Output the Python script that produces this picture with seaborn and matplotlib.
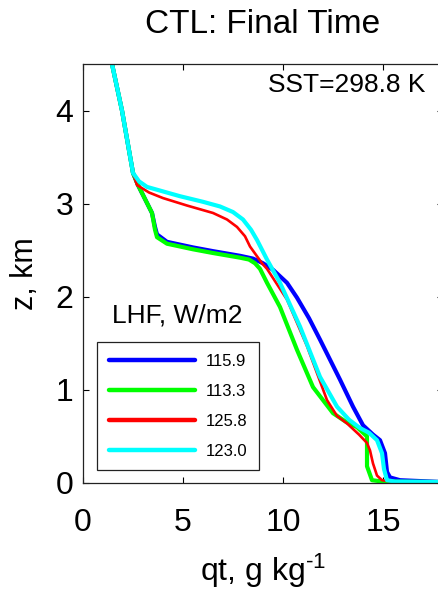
import numpy as np
import pandas as pd
import matplotlib
matplotlib.use("Agg")
import matplotlib.pyplot as plt
import seaborn as sns

# LHF labels and line colours
labels = ["115.9", "113.3", "125.8", "123.0"]
colors = ["#0000ff", "#00ff00", "#ff0000", "#00ffff"]
widths = [3.0, 3.0, 1.9, 3.0]

# qt (g/kg) and z (km), top of profile to surface
qt_blue = [1.45, 1.95, 2.5, 2.75, 3.1, 3.45, 3.6, 3.7, 4.2, 5.5, 6.5, 7.85, 8.5, 9.0, 9.5, 10.2, 10.7,
           11.3, 11.85, 12.85, 13.5, 14.0, 14.5, 14.85, 15.1, 15.2, 15.35, 15.85, 18.0]
z_blue = [4.5, 4.0, 3.33, 3.2, 3.05, 2.9, 2.75, 2.67, 2.59, 2.53, 2.49, 2.44, 2.41, 2.36, 2.29, 2.15, 1.99,
          1.77, 1.54, 1.11, 0.82, 0.62, 0.52, 0.46, 0.32, 0.12, 0.06, 0.03, 0.01]

qt_green = [1.45, 1.95, 2.5, 2.75, 3.1, 3.45, 3.6, 3.7, 4.2, 5.5, 6.5, 7.85, 8.3, 8.6, 8.85, 9.2, 9.85,
            10.7, 11.5, 12.5, 13.2, 13.7, 14.2, 14.2, 14.45, 15.0, 18.0]
z_green = [4.5, 4.0, 3.33, 3.2, 3.05, 2.9, 2.72, 2.64, 2.57, 2.51, 2.47, 2.42, 2.4, 2.36, 2.3, 2.15, 1.89,
           1.43, 1.03, 0.75, 0.65, 0.6, 0.5, 0.18, 0.03, 0.015, 0.01]

qt_red = [1.45, 1.95, 2.5, 2.7, 3.3, 4.0, 5.2, 6.5, 7.2, 7.7, 8.1, 8.35, 8.95, 9.2, 10.2, 11.2, 12.2,
          12.7, 13.2, 13.8, 14.2, 14.35, 14.5, 14.7, 14.95, 15.5, 18.0]
z_red = [4.5, 4.0, 3.33, 3.2, 3.12, 3.06, 2.98, 2.9, 2.83, 2.75, 2.65, 2.54, 2.36, 2.3, 1.97, 1.47, 0.89,
         0.72, 0.64, 0.52, 0.43, 0.35, 0.21, 0.08, 0.03, 0.015, 0.01]

qt_cyan = [1.45, 1.95, 2.5, 2.8, 3.2, 4.85, 6.0, 6.85, 7.5, 8.0, 8.4, 8.7, 9.2, 9.85, 10.85, 11.85, 12.7,
           13.3, 13.85, 14.3, 14.7, 14.95, 15.05, 15.2, 15.6, 18.0]
z_cyan = [4.5, 4.0, 3.33, 3.24, 3.18, 3.08, 3.02, 2.97, 2.91, 2.83, 2.72, 2.61, 2.4, 2.15, 1.68, 1.14, 0.82,
          0.68, 0.59, 0.54, 0.46, 0.32, 0.15, 0.03, 0.015, 0.01]

profiles = [(qt_blue, z_blue), (qt_green, z_green), (qt_red, z_red), (qt_cyan, z_cyan)]

sns.set_style("ticks")
plt.rcParams["font.family"] = ["Liberation Sans", "DejaVu Sans"]
plt.rcParams["mathtext.fontset"] = "custom"
plt.rcParams["mathtext.rm"] = "Liberation Sans"
plt.rcParams["mathtext.it"] = "Liberation Sans"
for k in ["text.color", "axes.labelcolor", "xtick.color", "ytick.color"]:
    plt.rcParams[k] = "black"

fig = plt.figure(figsize=(4.38, 5.97), dpi=100)
# axes runs past the right edge of the figure, as in the reference
ax = fig.add_axes([83 / 438, 114 / 597, 360 / 438, 419 / 597])

for (qt, z), lab, c, w in zip(profiles, labels, colors, widths):
    df = pd.DataFrame({"qt": qt, "z": z})
    sns.lineplot(data=df, x="qt", y="z", sort=False, estimator=None, color=c, lw=w,
                 label=lab, ax=ax)

ax.set_xlim(0, 18)
ax.set_ylim(0, 4.5)
ax.set_xticks([0, 5, 10, 15])
ax.set_yticks([0, 1, 2, 3, 4])
ax.tick_params(direction="in", length=4, width=0.8, top=True, right=True, labelsize=23)
ax.tick_params(axis="x", pad=18)
ax.tick_params(axis="y", pad=7)
for s in ax.spines.values():
    s.set_color("#222222")
    s.set_linewidth(0.9)

ax.set_xlabel("qt, g kg$^{\u20101}$", fontsize=23, labelpad=10)
ax.set_ylabel("z, km", fontsize=22, labelpad=11)
ax.set_title("CTL: Final Time", fontsize=24, pad=22)

ax.text(9.25, 4.27, "SST=298.8 K", fontsize=19, va="center", ha="left")
ax.text(1.45, 1.80, "LHF, W/m2", fontsize=19, va="center", ha="left")

leg = ax.legend(loc="upper left", bbox_to_anchor=(97 / 438, 1 - 342 / 597),
                bbox_transform=fig.transFigure, borderaxespad=0, fontsize=12,
                frameon=True, fancybox=False, edgecolor="#222222", framealpha=1,
                handlelength=5.2, handletextpad=0.6, labelspacing=0.9, borderpad=0.7)
leg.get_frame().set_linewidth(0.9)
for h in leg.legend_handles:
    h.set_linewidth(3.2)

fig.savefig("out.png", dpi=100)
